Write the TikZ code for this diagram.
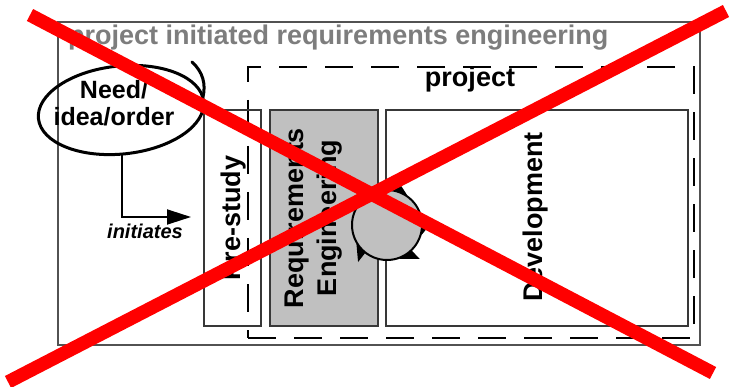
\documentclass[tikz,border=0pt]{standalone}
\usepackage{fontspec}
\setmainfont{Liberation Sans}
\usetikzlibrary{calc,arrows.meta,shapes.geometric,fit}
\definecolor{boxgray}{RGB}{192,192,192}
\definecolor{titlegray}{RGB}{125,125,125}
\definecolor{xred}{RGB}{255,0,0}
\begin{document}
\begin{tikzpicture}[x=1pt,y=-1pt,
  outerbox/.style={draw=black!68, line width=2.4pt, inner sep=0pt},
  innerbox/.style={draw=black!78, line width=1.4pt, inner sep=0pt},
  projbox/.style={draw=black, line width=1.4pt, dash pattern=on 28pt off 18pt, inner sep=0pt},
  lbl/.style={font=\fontsize{27}{33}\selectfont\bfseries, inner sep=0pt, align=center},
  titlelbl/.style={font=\fontsize{27}{32}\selectfont\bfseries, text=titlegray, inner sep=0pt},
  needlbl/.style={font=\fontsize{25}{27}\selectfont\bfseries, inner sep=0pt, align=center},
  inilbl/.style={font=\fontsize{20}{24}\selectfont\bfseries\itshape, inner sep=0pt},
  crossline/.style={draw=xred, line width=13.5pt}
]
\useasboundingbox (0,0) rectangle (730,387);
\fill[white] (0,0) rectangle (730,387);

% outer frame and title
\node[outerbox, fit={(58,22) (700,345)}] (outer) {};
\node[titlelbl, anchor=base west] (title) at (68,45) {project initiated requirements engineering};

% project (dashed)
\node[projbox, fit={(248,67) (694,338)}] (proj) {};
\node[lbl, anchor=base] (projlbl) at (470,87) {project};

% phase boxes
\node[innerbox, fit={(204,110) (261,326)}] (pre) {};
\node[innerbox, fill=boxgray, fit={(270,110) (378,326)}] (req) {};
\node[innerbox, fit={(386,110) (688,326)}] (dev) {};

\node[lbl, rotate=90] (prelbl) at (234,218) {Pre-study};
\node[lbl, rotate=90] (reqlbl) at (313,218) {Requirements\\Engineering};
\node[lbl, rotate=90] (devlbl) at (536,217) {Development};

% iteration circle
\coordinate (cc) at (387,225);
\foreach \a/\b in {128/148, 46/70, -6/16, -78/-56}{
  \fill ($(cc)+(\a:29)$) -- ($(cc)+(\a:47)$) -- ($(cc)+(\b:36)$) -- cycle;
}
\node[circle, draw=black, fill=boxgray, line width=2pt, minimum size=70pt, inner sep=0pt] (cyc) at (cc) {};

% need / idea / order
\node[ellipse, draw=black, line width=3pt, minimum width=166pt, minimum height=88pt, rotate=6] (need) at (121,110) {};
\draw[line width=3pt, line cap=round] (192,62) .. controls (203,72) and (206,84) .. (203,97);
\node[needlbl] (needlbl) at (114,103) {Need/\\idea/order};

% initiates arrow
\coordinate (inistart) at (122,154);
\coordinate (iniend) at (191,217);
\draw[line width=1.8pt, -{Triangle[length=24pt,width=15pt]}] (inistart) |- (iniend);
\node[inilbl, anchor=base] (inilbl) at (145,238) {initiates};

% red cross
\coordinate (x1a) at (30,15);
\coordinate (x1b) at (713,373);
\coordinate (x2a) at (726,11);
\coordinate (x2b) at (8,382);
\draw[crossline] (x1a) -- (x1b);
\draw[crossline] (x2a) -- (x2b);
\end{tikzpicture}
\end{document}
